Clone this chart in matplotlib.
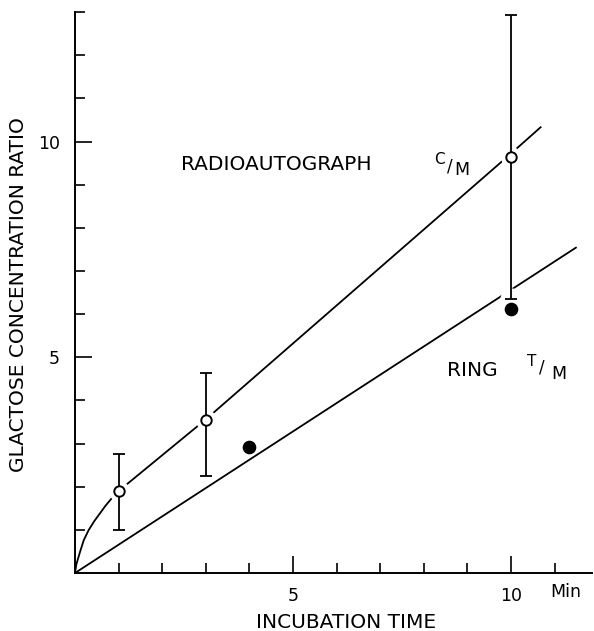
import matplotlib
matplotlib.use("Agg")
import matplotlib.pyplot as plt
from matplotlib.ticker import FixedLocator, FixedFormatter

# ---- data ----
time_open = [1, 3, 10]                 # radioautograph C/M (open circles)
ratio_open = [1.9, 3.55, 9.65]
err_low = [1.0, 2.25, 6.36]
err_high = [2.75, 4.63, 12.94]

time_filled = [4, 10]                  # ring T/M (filled circles)
ratio_filled = [2.91, 6.11]

curve_c_x = [0, 0.03, 0.115, 0.2, 0.31, 0.44, 0.57, 0.7, 0.84, 1.0, 3.0, 10.0, 10.68]
curve_c_y = [0, 0.2, 0.49, 0.76, 0.99, 1.2, 1.38, 1.56, 1.73, 1.9, 3.56, 9.72, 10.33]

curve_t_x = [0, 11.49]
curve_t_y = [0, 7.54]

x_major = [5, 10]
x_major_labels = ["5", "10"]
x_minor = [1, 2, 3, 4, 6, 7, 8, 9, 11]
y_major = [5, 10]
y_major_labels = ["5", "10"]
y_minor = [1, 2, 3, 4, 6, 7, 8, 9, 11, 12, 13]

plt.rcParams["font.family"] = ["DejaVu Sans"]

fig = plt.figure(figsize=(5.94, 6.31), dpi=100)
ax = fig.add_axes([0.1263, 0.0919, 0.8704, 0.889])

ax.set_xlim(0, 11.86)
ax.set_ylim(0, 13)

lw = 1.3
ax.plot(curve_c_x, curve_c_y, color="black", lw=lw, zorder=2,
        solid_joinstyle="round")
ax.plot(curve_t_x, curve_t_y, color="black", lw=lw, zorder=2)

# white halos breaking the lines around the points
ax.plot(time_open, ratio_open, linestyle="none", marker="o", ms=15,
        mfc="white", mec="none", zorder=3)
ax.plot(time_open[-1:], err_low[-1:], linestyle="none", marker="o", ms=16,
        mfc="white", mec="none", zorder=3)

yerr = [[r - lo for r, lo in zip(ratio_open, err_low)],
        [hi - r for r, hi in zip(ratio_open, err_high)]]
ax.errorbar(time_open, ratio_open, yerr=yerr, fmt="none", ecolor="black",
            elinewidth=1.3, capsize=4, capthick=1.3, zorder=4)
ax.plot(time_open, ratio_open, linestyle="none", marker="o", ms=7.5,
        mfc="white", mec="black", mew=1.4, zorder=5)
ax.plot(time_filled, ratio_filled, linestyle="none", marker="o", ms=8.8,
        mfc="black", mec="black", zorder=5)

# spines
for s in ["top", "right"]:
    ax.spines[s].set_visible(False)
for s in ["left", "bottom"]:
    ax.spines[s].set_linewidth(1.4)

ax.xaxis.set_major_locator(FixedLocator(x_major))
ax.xaxis.set_major_formatter(FixedFormatter(x_major_labels))
ax.xaxis.set_minor_locator(FixedLocator(x_minor))
ax.yaxis.set_major_locator(FixedLocator(y_major))
ax.yaxis.set_major_formatter(FixedFormatter(y_major_labels))
ax.yaxis.set_minor_locator(FixedLocator(y_minor))

ax.tick_params(axis="both", which="major", direction="in", length=12,
               width=1.2, labelsize=12.5)
ax.tick_params(axis="both", which="minor", direction="in", length=7.5,
               width=1.2)
ax.tick_params(axis="x", which="major", pad=10)
ax.tick_params(axis="y", which="major", pad=11)

# "Min" unit next to the 10 tick label
ax.text(11.26, -0.554, "Min", fontsize=12.5, ha="center", va="baseline")

# axis labels
ax.text((346 - 75) / 517, -0.098, "INCUBATION TIME", transform=ax.transAxes,
        fontsize=14.5, ha="center", va="baseline")
ax.text((18.5 - 75) / 517, 0.497, "GLACTOSE CONCENTRATION RATIO",
        transform=ax.transAxes, rotation=90, fontsize=14.5,
        ha="center", va="center")

# curve annotations
ax.text(4.61, 9.35, "RADIOAUTOGRAPH", fontsize=14.5, ha="center", va="baseline")
ax.text(8.36, 9.47, "C", fontsize=11, ha="center", va="baseline")
ax.text(8.60, 9.42, "/", fontsize=12, ha="center", va="center")
ax.text(8.88, 9.22, "M", fontsize=12.5, ha="center", va="baseline")

ax.text(9.11, 4.57, "RING", fontsize=14.5, ha="center", va="baseline")
ax.text(10.48, 4.80, "T", fontsize=11, ha="center", va="baseline")
ax.text(10.71, 4.76, "/", fontsize=12, ha="center", va="center")
ax.text(11.10, 4.50, "M", fontsize=12.5, ha="center", va="baseline")

fig.savefig("out.png", dpi=100, facecolor="white")
